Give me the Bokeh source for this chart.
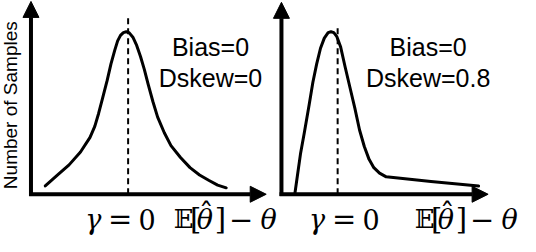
from math import pi
from bokeh.plotting import figure
from bokeh.models import Range1d, Arrow, NormalHead
from bokeh.core.properties import value
from bokeh.embed import file_html
from bokeh.resources import INLINE

# ---- data (x: estimate axis, y: number of samples) ----
left_x = [45, 58, 70, 82, 92, 97, 101, 105, 110, 114, 118, 121, 124, 127, 130, 133, 137,
          141, 145, 149, 153, 158, 163, 170, 177, 187, 197, 207, 217, 226, 235]
left_y = [9, 21, 32, 46, 62, 74, 88, 104, 124, 142, 157, 167, 173, 176, 177, 176, 171,
          162, 150, 136, 120, 101, 84, 67, 53, 40, 29, 21, 15, 10, 7]

right_x = [307, 310, 313, 317, 322, 326, 330, 334, 338, 342, 345, 348, 351, 355, 360, 365,
           370, 375, 380, 385, 390, 396, 403, 450, 500]
right_y = [0, 22, 44, 67, 97, 122, 142, 159, 170, 176, 177, 176, 172, 161, 138, 116,
           94, 70, 52, 38, 29, 23, 19, 14, 9]

gamma_x = [132, 352]          # position of gamma = 0 on each panel
gamma_top = [195, 185]

bias_labels = ["Bias=0", "Bias=0"]
dskew_labels = ["Dskew=0", "Dskew=0.8"]
label_x = [218.5, 447]

axis_origin_x = [30, 293]
axis_end_x = [277, 510]
axis_top_y = [210, 209]

gamma_label_x = [87, 322]
expect_label_x = [180, 433]
# (token, x offset, y offset, style, align, size)
gamma_tokens = [("γ", 0, 0, "italic", "left", 27), ("=", 24, 0, "normal", "left", 29),
                ("0", 56, 0, "normal", "left", 27)]
expect_tokens = [("𝔼", 0, 0, "normal", "left", 26), ("[", 17, 0, "normal", "left", 29),
                 ("θ", 24, 0, "italic", "left", 27), ("ˆ", 34, 6, "normal", "center", 30),
                 ("]", 43, 0, "normal", "left", 29), ("−", 58, 0, "normal", "left", 29),
                 ("θ", 91, 0, "italic", "left", 27)]

ylabel = "Number of Samples"

p = figure(width=520, height=236, x_range=Range1d(-2, 544), y_range=Range1d(-46, 211),
           output_backend="svg", toolbar_location=None, min_border=0,
           x_axis_location=None, y_axis_location=None)
p.grid.visible = False
p.outline_line_color = None
p.background_fill_color = "white"
p.border_fill_color = "white"

# axes with arrow heads
for ox, ex, ty in zip(axis_origin_x, axis_end_x, axis_top_y):
    p.add_layout(Arrow(x_start=ox, y_start=-2, x_end=ox, y_end=ty, line_width=4, line_color="black",
                       end=NormalHead(size=16, fill_color="black", line_color="black", line_width=1)))
    p.add_layout(Arrow(x_start=ox - 2, y_start=0, x_end=ex, y_end=0, line_width=4, line_color="black",
                       end=NormalHead(size=16, fill_color="black", line_color="black", line_width=1)))

# dashed gamma lines
for gx, gt in zip(gamma_x, gamma_top):
    p.line([gx, gx], [0, gt], line_width=2, line_color="black", line_dash="6 4")

# curves
p.line(left_x, left_y, line_width=3, line_color="black", line_join="round", line_cap="round")
p.line(right_x, right_y, line_width=3, line_color="black", line_join="round", line_cap="round")

# annotation texts
p.text(x=label_x, y=[160, 160], text=bias_labels, text_font=value("Liberation Sans"),
       text_font_size="25px", text_align="center", text_baseline="alphabetic", text_color="black")
p.text(x=label_x, y=[127, 127], text=dskew_labels, text_font=value("Liberation Sans"),
       text_font_size="25px", text_align="center", text_baseline="alphabetic", text_color="black")

# y label
p.text(x=[9], y=[97], text=[ylabel], angle=pi / 2, text_font=value("Liberation Sans"),
       text_font_size="19px", text_align="center", text_baseline="middle", text_color="black")

# math labels
for gx0, ex0 in zip(gamma_label_x, expect_label_x):
    for anchor, tokens in ((gx0, gamma_tokens), (ex0, expect_tokens)):
        for tok, dx, dy, style, align, size in tokens:
            p.text(x=[anchor + dx], y=[-27 + dy], text=[tok], text_font=value("DejaVu Serif"),
                   text_font_style=style, text_font_size=f"{size}px", text_align=align,
                   text_baseline="alphabetic", text_color="black")

open("out.html", "w").write(file_html(p, INLINE))
